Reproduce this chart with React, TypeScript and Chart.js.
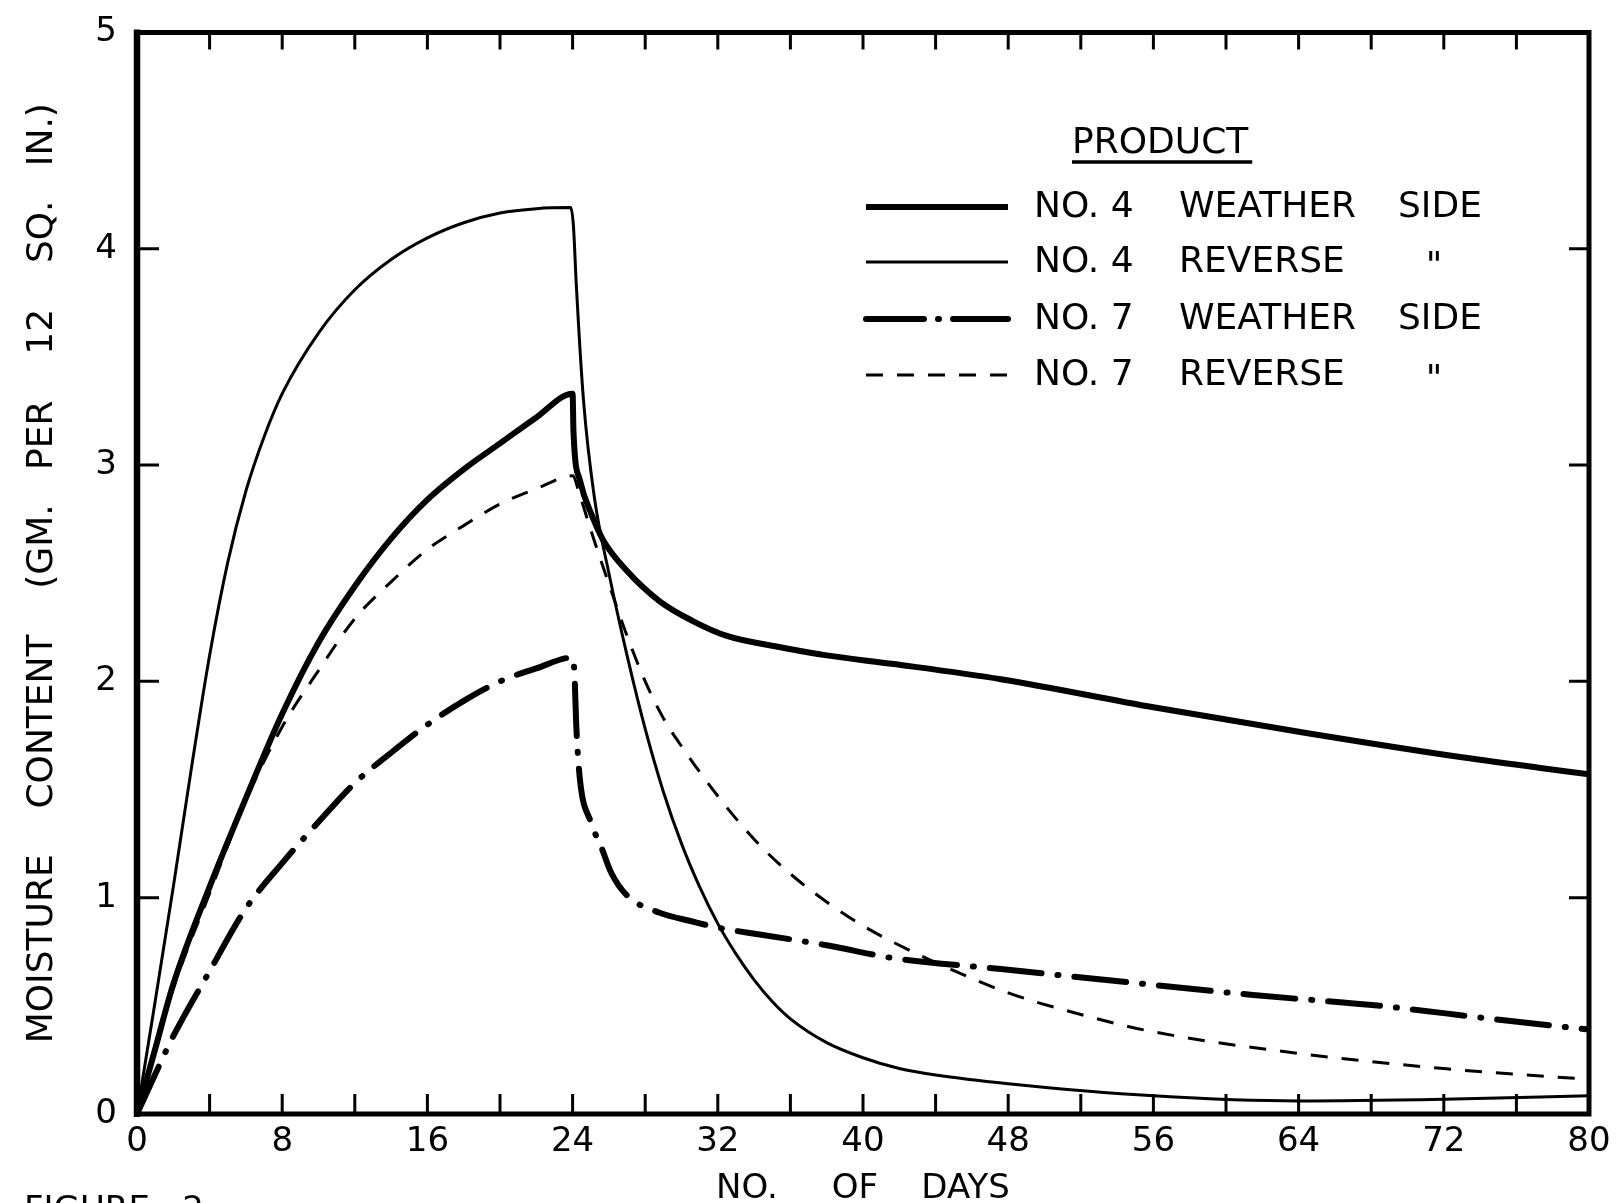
import React, { useEffect, useRef } from 'react';
import { Chart, registerables } from 'chart.js';

Chart.register(...registerables);

// ---- Data (days, moisture content in gm per 12 sq. in.) ----
const no4WeatherDays = [0, 1, 2, 4, 6, 8, 10, 12, 14, 16, 18, 20, 22, 24, 24.05, 24.4, 25.1, 25.7, 27, 28.8, 30.6, 32.5, 35.3, 38, 41.7, 47.6, 56, 64.5, 72.9, 80];
const no4WeatherVals = [0, 0.3, 0.6, 1.05, 1.46, 1.85, 2.18, 2.44, 2.66, 2.84, 2.98, 3.1, 3.22, 3.33, 3.15, 2.93, 2.76, 2.65, 2.51, 2.37, 2.28, 2.21, 2.16, 2.12, 2.08, 2.01, 1.88, 1.76, 1.65, 1.57];

const no4ReverseDays = [0, 1, 2, 3, 4, 5, 6, 7, 8, 10, 12, 14, 16, 18, 20, 22, 23.9, 24.05, 24.2, 24.6, 25.2, 26, 27, 28, 29, 30, 31, 32, 33, 34, 35, 36, 38, 40, 42, 44, 48, 56, 64, 72, 80];
const no4ReverseVals = [0, 0.52, 1.05, 1.6, 2.12, 2.55, 2.88, 3.13, 3.33, 3.61, 3.81, 3.95, 4.05, 4.12, 4.165, 4.185, 4.19, 4.1, 3.84, 3.3, 2.85, 2.5, 2.12, 1.78, 1.49, 1.25, 1.05, 0.88, 0.74, 0.62, 0.52, 0.44, 0.33, 0.26, 0.21, 0.18, 0.14, 0.084, 0.06, 0.068, 0.084];

const no7WeatherDays = [0, 2, 4, 6, 8, 10, 12, 14, 16, 18, 20, 22, 24, 24.1, 24.2, 24.4, 25, 25.6, 26.1, 27, 28.8, 30.6, 32.1, 34.3, 38, 41.7, 47.6, 54.5, 61.5, 68.5, 74.6, 80];
const no7WeatherVals = [0, 0.36, 0.66, 0.95, 1.16, 1.35, 1.53, 1.67, 1.8, 1.91, 2.0, 2.06, 2.11, 2.04, 1.8, 1.55, 1.35, 1.23, 1.12, 1.01, 0.93, 0.89, 0.86, 0.83, 0.78, 0.72, 0.67, 0.61, 0.55, 0.5, 0.44, 0.39];

const no7ReverseDays = [0, 2, 4, 6, 8, 10, 12, 14, 16, 18, 20, 22, 24, 24.4, 25, 26, 27, 28, 29, 30, 32, 34, 36, 38, 40, 42, 44, 48, 52, 56, 64, 72, 80];
const no7ReverseVals = [0, 0.58, 1.02, 1.45, 1.79, 2.05, 2.29, 2.46, 2.61, 2.72, 2.82, 2.89, 2.95, 2.86, 2.7, 2.45, 2.21, 2.0, 1.83, 1.7, 1.47, 1.27, 1.11, 0.98, 0.87, 0.78, 0.7, 0.56, 0.46, 0.38, 0.28, 0.21, 0.16];

const seriesNames = ['NO. 4 WEATHER SIDE', 'NO. 4 REVERSE', 'NO. 7 WEATHER SIDE', 'NO. 7 REVERSE'];
const legendNumbers = ['NO. 4', 'NO. 4', 'NO. 7', 'NO. 7'];
const legendSides = ['WEATHER', 'REVERSE', 'WEATHER', 'REVERSE'];
const legendTails = ['SIDE', '"', 'SIDE', '"'];
const legendTitle = 'PRODUCT';
const xTitle = 'NO.     OF    DAYS';
const yTitle = 'MOISTURE    CONTENT    (GM.   PER    12    SQ.   IN.)';
const figureCaption = 'FIGURE   2';

const xMin = 0;
const xMax = 80;
const xLabelStep = 8;
const xMinorStep = 4;
const yMin = 0;
const yMax = 5;
const yStep = 1;

const FONT = '"DejaVu Sans", sans-serif';

const toPoints = (xs: number[], ys: number[]) => xs.map((x, i) => ({ x, y: ys[i] }));

const decorPlugin = {
  id: 'decor',
  afterDraw(chart: any) {
    const { ctx, chartArea, scales } = chart;
    const xs = scales.x;
    const ys = scales.y;
    const { left, right, top, bottom } = chartArea;
    ctx.save();
    ctx.strokeStyle = '#000';
    ctx.fillStyle = '#000';
    ctx.lineCap = 'butt';

    // frame
    ctx.lineWidth = 6.5;
    ctx.beginPath();
    ctx.moveTo(left, top - 3);
    ctx.lineTo(left, bottom + 3);
    ctx.stroke();
    ctx.lineWidth = 5;
    ctx.beginPath();
    ctx.moveTo(left - 3, bottom);
    ctx.lineTo(right + 2.5, bottom);
    ctx.moveTo(right, bottom);
    ctx.lineTo(right, top);
    ctx.moveTo(right + 2.5, top);
    ctx.lineTo(left - 3, top);
    ctx.stroke();

    // inward ticks
    ctx.lineWidth = 3;
    ctx.beginPath();
    for (let v = xMin + xMinorStep; v < xMax; v += xMinorStep) {
      const px = xs.getPixelForValue(v);
      ctx.moveTo(px, bottom);
      ctx.lineTo(px, bottom - 20);
      ctx.moveTo(px, top);
      ctx.lineTo(px, top + 17);
    }
    for (let v = yMin + yStep; v < yMax; v += yStep) {
      const py = ys.getPixelForValue(v);
      ctx.moveTo(left, py);
      ctx.lineTo(left + 22, py);
      ctx.moveTo(right, py);
      ctx.lineTo(right - 20, py);
    }
    ctx.stroke();

    // legend
    ctx.font = `36px ${FONT}`;
    ctx.textBaseline = 'middle';
    ctx.textAlign = 'left';
    ctx.fillText(legendTitle, 1072, 144);
    const tw = ctx.measureText(legendTitle).width;
    ctx.lineWidth = 3.5;
    ctx.beginPath();
    ctx.moveTo(1072, 162);
    ctx.lineTo(1072 + tw + 4, 162);
    ctx.stroke();

    const rowsY = [207, 262, 319, 375];
    const styles = [
      { w: 6, dash: [] as number[], cap: 'butt' },
      { w: 3, dash: [] as number[], cap: 'butt' },
      { w: 6, dash: [58, 14, 1, 14], cap: 'round' },
      { w: 3, dash: [17, 14], cap: 'butt' },
    ];
    rowsY.forEach((y, i) => {
      const s = styles[i];
      ctx.lineWidth = s.w;
      ctx.lineCap = s.cap;
      ctx.setLineDash(s.dash);
      ctx.beginPath();
      ctx.moveTo(866, y);
      ctx.lineTo(1008, y);
      ctx.stroke();
      ctx.setLineDash([]);
      ctx.lineCap = 'butt';
      ctx.fillText(legendNumbers[i], 1034, y + 1);
      ctx.fillText(legendSides[i], 1179, y + 1);
      if (legendTails[i] === '"') {
        ctx.textAlign = 'center';
        ctx.fillText(legendTails[i], 1434, y + 6);
        ctx.textAlign = 'left';
      } else {
        ctx.fillText(legendTails[i], 1398, y + 1);
      }
    });

    // figure caption (cut by page bottom)
    ctx.font = `34px ${FONT}`;
    ctx.textBaseline = 'alphabetic';
    ctx.fillText(figureCaption, 24, 1220);
    ctx.restore();
  },
};

export default function App() {
  const canvasRef = useRef<HTMLCanvasElement | null>(null);

  useEffect(() => {
    const canvas = canvasRef.current;
    if (!canvas) return;
    const chart = new Chart(canvas, {
      type: 'line',
      data: {
        datasets: [
          {
            label: seriesNames[0],
            data: toPoints(no4WeatherDays, no4WeatherVals),
            borderColor: '#000',
            borderWidth: 6,
            pointRadius: 0,
            cubicInterpolationMode: 'monotone',
            fill: false,
          },
          {
            label: seriesNames[1],
            data: toPoints(no4ReverseDays, no4ReverseVals),
            borderColor: '#000',
            borderWidth: 3,
            pointRadius: 0,
            cubicInterpolationMode: 'monotone',
            fill: false,
          },
          {
            label: seriesNames[2],
            data: toPoints(no7WeatherDays, no7WeatherVals),
            borderColor: '#000',
            borderWidth: 6,
            borderDash: [52, 16, 1, 16],
            borderCapStyle: 'round',
            pointRadius: 0,
            cubicInterpolationMode: 'monotone',
            fill: false,
          },
          {
            label: seriesNames[3],
            data: toPoints(no7ReverseDays, no7ReverseVals),
            borderColor: '#000',
            borderWidth: 3,
            borderDash: [17, 14],
            pointRadius: 0,
            cubicInterpolationMode: 'monotone',
            fill: false,
          },
        ],
      },
      options: {
        responsive: false,
        animation: false,
        devicePixelRatio: 1,
        layout: { padding: { left: 0, top: 31, right: 28, bottom: 0 } },
        plugins: {
          legend: { display: false },
          tooltip: { enabled: false },
        },
        scales: {
          x: {
            type: 'linear',
            position: 'bottom',
            min: xMin,
            max: xMax,
            grid: { display: false },
            border: { display: false },
            ticks: {
              stepSize: xLabelStep,
              autoSkip: false,
              maxRotation: 0,
              color: '#000',
              padding: 0,
              font: { family: FONT, size: 34 },
            },
            title: {
              display: true,
              text: xTitle,
              color: '#000',
              font: { family: FONT, size: 34 },
              padding: { top: 0, bottom: 5 },
            },
            afterFit: (scale: any) => {
              scale.height = 101;
            },
          },
          y: {
            type: 'linear',
            position: 'left',
            min: yMin,
            max: yMax,
            grid: { display: false },
            border: { display: false },
            ticks: {
              stepSize: yStep,
              color: '#000',
              padding: 12,
              font: { family: FONT, size: 34 },
            },
            title: {
              display: true,
              text: yTitle,
              color: '#000',
              font: { family: FONT, size: 36 },
              padding: { top: 21, bottom: 0 },
            },
            afterFit: (scale: any) => {
              scale.width = 137;
            },
          },
        },
      },
      plugins: [decorPlugin],
    } as any);
    return () => chart.destroy();
  }, []);

  return (
    <div style={{ position: 'fixed', left: 0, top: 0, width: 1617, height: 1203, background: '#fff', overflow: 'hidden' }}>
      <canvas ref={canvasRef} width={1617} height={1215} style={{ display: 'block' }} />
    </div>
  );
}
